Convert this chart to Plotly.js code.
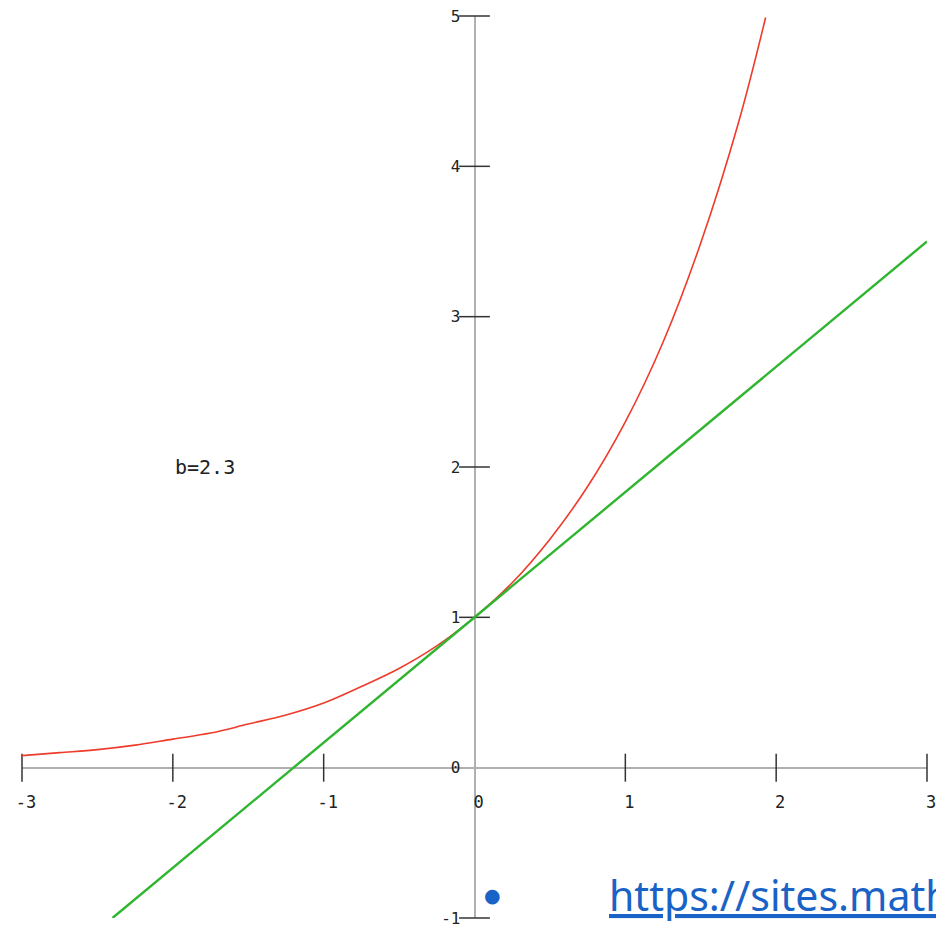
<!DOCTYPE html>
<html>
<head>
<meta charset="utf-8">
<script src="https://cdn.plot.ly/plotly-3.0.1.min.js"></script>
<style>html,body{margin:0;padding:0;background:#fff;}#chart{width:936px;height:926px;}</style>
</head>
<body>
<div id="chart"></div>
<script>
// Red curve
const curveX = [-3, -2.75, -2.5, -2.25, -2, -1.75, -1.5, -1.25, -1, -0.75, -0.5, -0.25, 0, 0.25, 0.5, 0.75, 1, 1.25, 1.5, 1.75, 1.93];
const curveY = [0.08, 0.10, 0.12, 0.15, 0.19, 0.23, 0.29, 0.35, 0.43, 0.54, 0.66, 0.81, 1.0, 1.23, 1.52, 1.87, 2.3, 2.83, 3.49, 4.29, 4.99];
// Green tangent line
const lineX = [-2.4, 3];
const lineY = [-1, 3.5];
// Ticks
const xTicks = [-3, -2, -1, 0, 1, 2, 3];
const xTickLabels = ["-3", "-2", "-1", "0", "1", "2", "3"];
const yTicks = [-1, 0, 1, 2, 3, 4, 5];
const yTickLabels = ["-1", "0", "1", "2", "3", "4", "5"];
const xMarks = [-3, -2, -1, 1, 2, 3];
const yMarks = [-1, 1, 2, 3, 4, 5];
const noteText = "b=2.3";
const noteX = -1.79, noteY = 2.0;
const linkText = "https://sites.math";

const mono = "DejaVu Sans Mono, monospace";

const traces = [
  {x: xMarks, y: xMarks.map(() => 0), type: 'scatter', mode: 'markers', cliponaxis: false, hoverinfo: 'skip',
   marker: {symbol: 'line-ns', size: 20, line: {color: '#333', width: 1.5}}},
  {x: yMarks.map(() => 0), y: yMarks, type: 'scatter', mode: 'markers', cliponaxis: false, hoverinfo: 'skip',
   marker: {symbol: 'line-ew', size: 22, line: {color: '#333', width: 1.5}}},
  {x: curveX, y: curveY, type: 'scatter', mode: 'lines', line: {color: '#ee3b2b', width: 1.6, shape: 'spline'}},
  {x: lineX, y: lineY, type: 'scatter', mode: 'lines', line: {color: '#2fb52f', width: 2.4}}
];

const layout = {
  width: 936, height: 926,
  margin: {l: 22, r: 9, t: 16, b: 8},
  paper_bgcolor: '#fff', plot_bgcolor: '#fff',
  showlegend: false,
  xaxis: {range: [-3, 3], anchor: 'free', position: 1/6, showgrid: false, showline: false,
    zeroline: true, zerolinecolor: '#b0b0b0', zerolinewidth: 2,
    tickmode: 'array', tickvals: xTicks, ticktext: xTickLabels, ticks: '',
    ticklabelstandoff: 22, ticklabelshift: 4, ticklabeloverflow: 'allow',
    tickfont: {family: mono, size: 17, color: '#222'}},
  yaxis: {range: [-1, 5], anchor: 'free', position: 0.5, showgrid: false, showline: false,
    zeroline: true, zerolinecolor: '#b0b0b0', zerolinewidth: 2,
    tickmode: 'array', tickvals: yTicks, ticktext: yTickLabels, ticks: '',
    ticklabelstandoff: 14, ticklabeloverflow: 'allow',
    tickfont: {family: mono, size: 16, color: '#222'}},
  annotations: [
    {x: noteX, y: noteY, xref: 'x', yref: 'y', text: noteText, showarrow: false,
     font: {family: mono, size: 20, color: '#222'}},
    {x: 0.5204, y: 0.0233, xref: 'paper', yref: 'paper', yshift: -11, text: '●', showarrow: false,
     font: {family: 'DejaVu Sans', size: 19, color: '#1a63c6'}},
    {x: 0.6464, y: 0.0233, xref: 'paper', yref: 'paper', yshift: -28, xanchor: 'left', text: '<u>' + linkText + '</u>', showarrow: false,
     font: {family: 'Noto Sans', size: 41, color: '#1a63c6'}}
  ]
};

Plotly.newPlot('chart', traces, layout, {displayModeBar: false, staticPlot: true});
</script>
</body>
</html>
